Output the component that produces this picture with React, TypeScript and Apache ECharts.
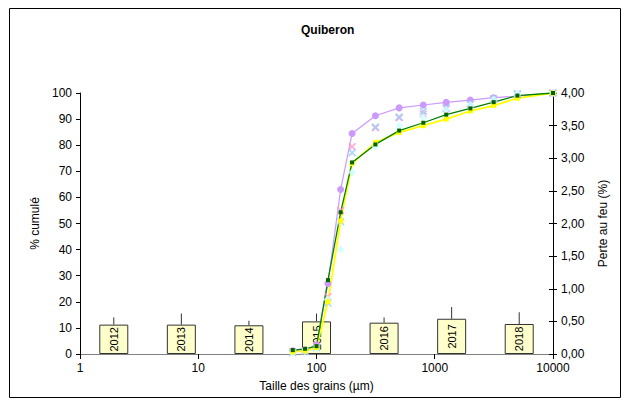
import React, { useEffect, useRef } from "react";
import * as echarts from "echarts";

const grainSizes = [63, 80, 100, 125, 160, 200, 315, 500, 800, 1250, 2000, 3150, 5000, 10000];
const purpleVals = [1.2, 1.5, 3.5, 27, 63, 84.5, 91.3, 94.3, 95.4, 96.4, 97.3, 98.2, 98.8, 100];
const pinkVals = [0.8, 1.2, 3, 22, 55, 79.4, 86.7, 90.5, 92, 94, 95.7, 97.5, 99.5, 100];
const blueVals = [0.6, 1, 2.5, 19.5, 50.7, 77.1, 87, 90.8, 93, 94.3, 96, 97.8, 99.7, 100];
const cyanVals = [0.5, 1, 2, 21, 40, 69.5, 79.5, 87.5, 90.7, 93.5, 95.5, 97.6, 99.8, 100];
const yellowVals = [0.8, 1.2, 2.5, 20, 51, 73, 81, 84.9, 87.5, 90, 93.1, 95.2, 98, 100];
const greenVals = [1.5, 2, 3, 28.3, 54.3, 73.4, 80.3, 85.6, 88.6, 91.7, 94.1, 96.5, 99, 100];

const years = ["2012", "2013", "2014", "2015", "2016", "2017", "2018"];
const lossOnIgnition = [0.45, 0.45, 0.44, 0.5, 0.48, 0.54, 0.46];
const lossErrTop = [0.56, 0.62, 0.51, 0.62, 0.56, 0.72, 0.64];

const xTickLabels = ["1", "10", "100", "1000", "10000"];

const FONT = "Liberation Sans, Arial, sans-serif";
const X_SYMBOL = "path://M0,1.5L1.5,0L5,3.5L8.5,0L10,1.5L6.5,5L10,8.5L8.5,10L5,6.5L1.5,10L0,8.5L3.5,5Z";

const pairs = (vals: number[]) => grainSizes.map((g, i) => [g, vals[i]]);

export default function App() {
  const ref = useRef<HTMLDivElement>(null);
  useEffect(() => {
    document.body.style.margin = "0";
    if (!ref.current) return;
    const chart = echarts.init(ref.current, null, { renderer: "svg" });
    const axisText = { fontFamily: FONT, fontSize: 12, color: "#000" };
    chart.setOption({
      animation: false,
      backgroundColor: "#fff",
      title: {
        text: "Quiberon",
        left: 296,
        top: 19,
        textStyle: { fontFamily: FONT, fontSize: 12, fontWeight: "bold", color: "#000" },
      },
      graphic: [
        {
          type: "rect",
          shape: { x: 9.5, y: 8.5, width: 611, height: 389 },
          style: { fill: "none", stroke: "#000", lineWidth: 1 },
          silent: true,
          z: -1,
        },
      ],
      grid: { left: 80, right: 76, top: 93, bottom: 53 },
      xAxis: [
        {
          type: "log",
          logBase: 10,
          min: 1,
          max: 10000,
          position: "bottom",
          name: "Taille des grains (µm)",
          nameLocation: "middle",
          nameGap: 26,
          nameTextStyle: axisText,
          axisLine: { lineStyle: { color: "#000", width: 1 } },
          axisTick: { show: true, inside: false, length: 5, lineStyle: { color: "#000" } },
          minorTick: { show: false },
          axisLabel: {
            ...axisText,
            margin: 8,
            formatter: (v: number) => {
              const idx = Math.round(Math.log10(v));
              return xTickLabels[idx] ?? String(v);
            },
          },
          splitLine: { show: false },
        },
        {
          type: "category",
          data: years,
          position: "top",
          boundaryGap: true,
          axisLine: { show: true, lineStyle: { color: "#808080", width: 1 } },
          axisTick: { show: false },
          axisLabel: { show: false },
          splitLine: { show: false },
        },
      ],
      yAxis: [
        {
          type: "value",
          min: 0,
          max: 100,
          interval: 10,
          position: "left",
          name: "% cumulé",
          nameLocation: "middle",
          nameRotate: 90,
          nameGap: 32,
          nameTextStyle: axisText,
          axisLine: { show: true, lineStyle: { color: "#000", width: 1 } },
          axisTick: { show: true, inside: false, length: 4, lineStyle: { color: "#000" } },
          axisLabel: { ...axisText, margin: 8 },
          splitLine: { show: false },
        },
        {
          type: "value",
          min: 0,
          max: 4,
          interval: 0.5,
          position: "right",
          name: "Perte au feu (%)",
          nameLocation: "middle",
          nameRotate: 90,
          nameGap: 44,
          nameTextStyle: axisText,
          axisLine: { show: true, lineStyle: { color: "#000", width: 1 } },
          axisTick: { show: true, inside: false, length: 4, lineStyle: { color: "#000" } },
          axisLabel: {
            ...axisText,
            margin: 8,
            formatter: (v: number) => v.toFixed(2).replace(".", ","),
          },
          splitLine: { show: false },
        },
        {
          type: "value",
          min: 0,
          max: 4,
          interval: 0.5,
          position: "right",
          axisLine: { show: false },
          axisTick: { show: true, inside: true, length: 4, lineStyle: { color: "#000" } },
          axisLabel: { show: false },
          splitLine: { show: false },
        },
      ],
      series: [
        {
          type: "bar",
          xAxisIndex: 1,
          yAxisIndex: 1,
          data: lossOnIgnition,
          barWidth: 29,
          z: 1,
          itemStyle: { color: "#FFFFCC", borderColor: "#333", borderWidth: 1 },
          label: {
            show: true,
            position: "inside",
            rotate: 90,
            formatter: (p: any) => p.name,
            fontFamily: FONT,
            fontSize: 11,
            color: "#000",
          },
        },
        {
          type: "custom",
          xAxisIndex: 1,
          yAxisIndex: 1,
          z: 1,
          data: years.map((_, i) => [i, lossOnIgnition[i], lossErrTop[i]]),
          encode: { x: 0, y: [1, 2] },
          renderItem: (params: any, api: any) => {
            const a = api.coord([api.value(0), api.value(1)]);
            const b = api.coord([api.value(0), api.value(2)]);
            return {
              type: "line",
              shape: { x1: a[0], y1: a[1], x2: b[0], y2: b[1] },
              style: { stroke: "#333", lineWidth: 1 },
            };
          },
        },
        {
          type: "line",
          data: pairs(purpleVals),
          z: 3,
          symbol: "circle",
          symbolSize: 7,
          lineStyle: { color: "#CC99FF", width: 1.2 },
          itemStyle: { color: "#CC99FF" },
        },
        {
          type: "scatter",
          data: pairs(pinkVals),
          z: 3,
          symbol: X_SYMBOL,
          symbolSize: 8,
          itemStyle: { color: "#FF99CC" },
        },
        {
          type: "scatter",
          data: pairs(blueVals),
          z: 3,
          symbol: X_SYMBOL,
          symbolSize: 8,
          itemStyle: { color: "#99CCFF" },
        },
        {
          type: "scatter",
          data: pairs(cyanVals),
          z: 3,
          symbol: "diamond",
          symbolSize: 8,
          itemStyle: { color: "#CCFFFF" },
        },
        {
          type: "line",
          data: pairs(yellowVals),
          z: 3,
          symbol: "rect",
          symbolSize: 5,
          lineStyle: { color: "#FFFF00", width: 1.8 },
          itemStyle: { color: "#FFFF00" },
        },
        {
          type: "line",
          data: pairs(greenVals),
          z: 3,
          symbol: "rect",
          symbolSize: 4,
          lineStyle: { color: "#008000", width: 1.3 },
          itemStyle: { color: "#006400" },
        },
      ],
    });
    return () => chart.dispose();
  }, []);
  return <div ref={ref} style={{ width: 629, height: 407 }} />;
}
